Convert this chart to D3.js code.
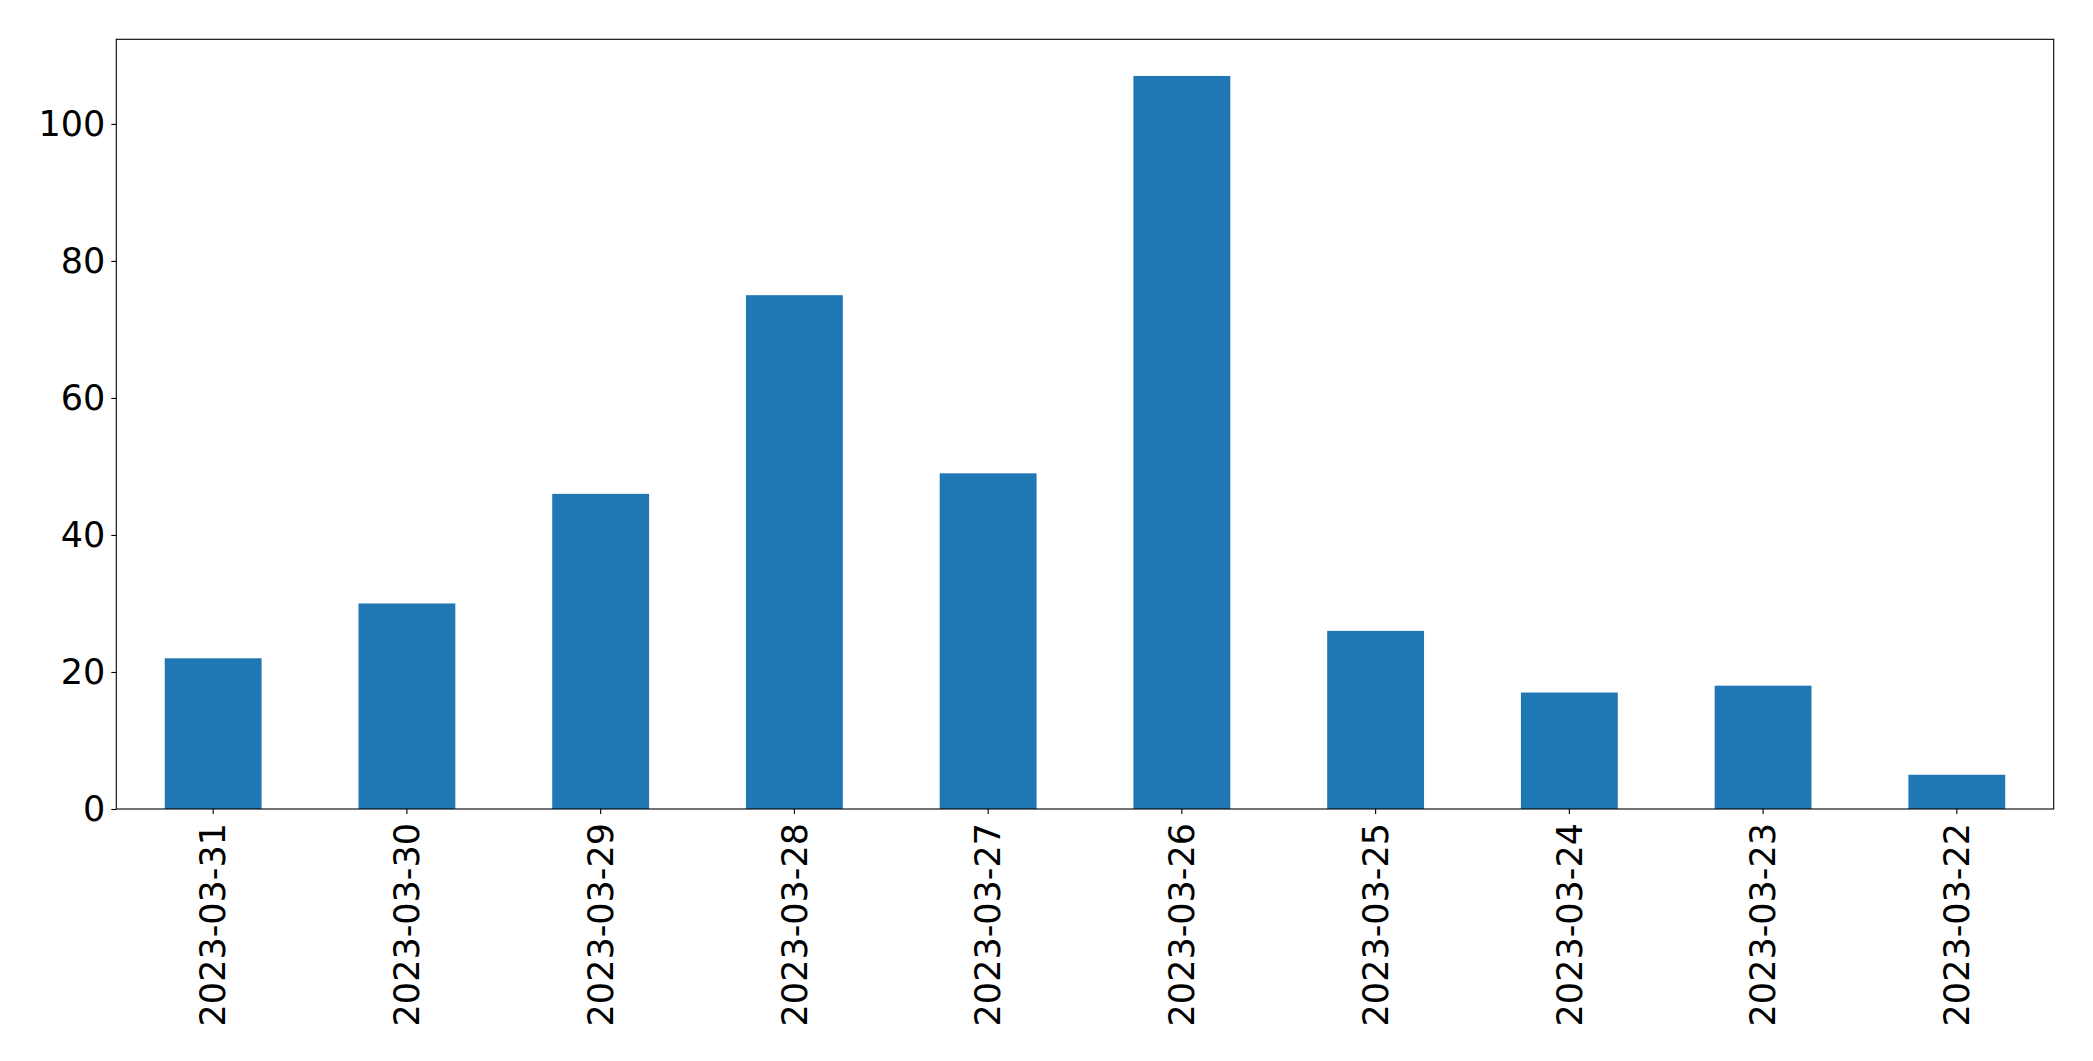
<!DOCTYPE html>
<html>
<head>
<meta charset="utf-8">
<script src="https://cdn.jsdelivr.net/npm/d3@7"></script>
<style>
  html, body { margin: 0; padding: 0; background: #fff; }
  svg { display: block; }
  text { font-family: "DejaVu Sans", sans-serif; fill: #000; }
</style>
</head>
<body>
<script>
const categories = ["2023-03-31","2023-03-30","2023-03-29","2023-03-28","2023-03-27","2023-03-26","2023-03-25","2023-03-24","2023-03-23","2023-03-22"];
const values = [22, 30, 46, 75, 49, 107, 26, 17, 18, 5];
const yTicks = [0, 20, 40, 60, 80, 100];

const W = 2093, H = 1061;
const margin = {left: 116.3, right: W - 2053.7, top: 39.3, bottom: H - 809};
const iw = W - margin.left - margin.right;
const ih = H - margin.top - margin.bottom;
const fontSize = 35;

const svg = d3.select("body").append("svg").attr("width", W).attr("height", H);
const g = svg.append("g").attr("transform", `translate(${margin.left},${margin.top})`);

const x = d3.scaleBand().domain(categories).range([0, iw]).paddingInner(0.5).paddingOuter(0.25);
const y = d3.scaleLinear().domain([0, d3.max(values) * 1.05]).range([ih, 0]);

g.selectAll("rect.bar").data(categories).enter().append("rect")
  .attr("class", "bar")
  .attr("x", d => x(d))
  .attr("width", x.bandwidth())
  .attr("y", (d, i) => y(values[i]))
  .attr("height", (d, i) => y(0) - y(values[i]))
  .attr("fill", "#1f77b4");

// frame
g.append("rect").attr("x", 0).attr("y", 0).attr("width", iw).attr("height", ih)
  .attr("fill", "none").attr("stroke", "#000").attr("stroke-width", 1.1);

// y axis
const yAxis = g.append("g").call(d3.axisLeft(y).tickValues(yTicks).tickSize(5).tickPadding(6).tickFormat(d3.format("d")));
yAxis.select(".domain").remove();
yAxis.selectAll("line").attr("stroke", "#000").attr("stroke-width", 1.1);
yAxis.selectAll("text").style("font-size", fontSize + "px").style("font-family", "DejaVu Sans");

// x axis
const xAxis = g.append("g").attr("transform", `translate(0,${ih})`).call(d3.axisBottom(x).tickSize(5).tickPadding(0));
xAxis.select(".domain").remove();
xAxis.selectAll("line").attr("stroke", "#000").attr("stroke-width", 1.1);
xAxis.selectAll("text")
  .style("font-size", fontSize + "px").style("font-family", "DejaVu Sans")
  .attr("text-anchor", "end")
  .attr("transform", "rotate(-90)")
  .attr("x", -14)
  .attr("y", 0)
  .attr("dy", "0.35em");
</script>
</body>
</html>
